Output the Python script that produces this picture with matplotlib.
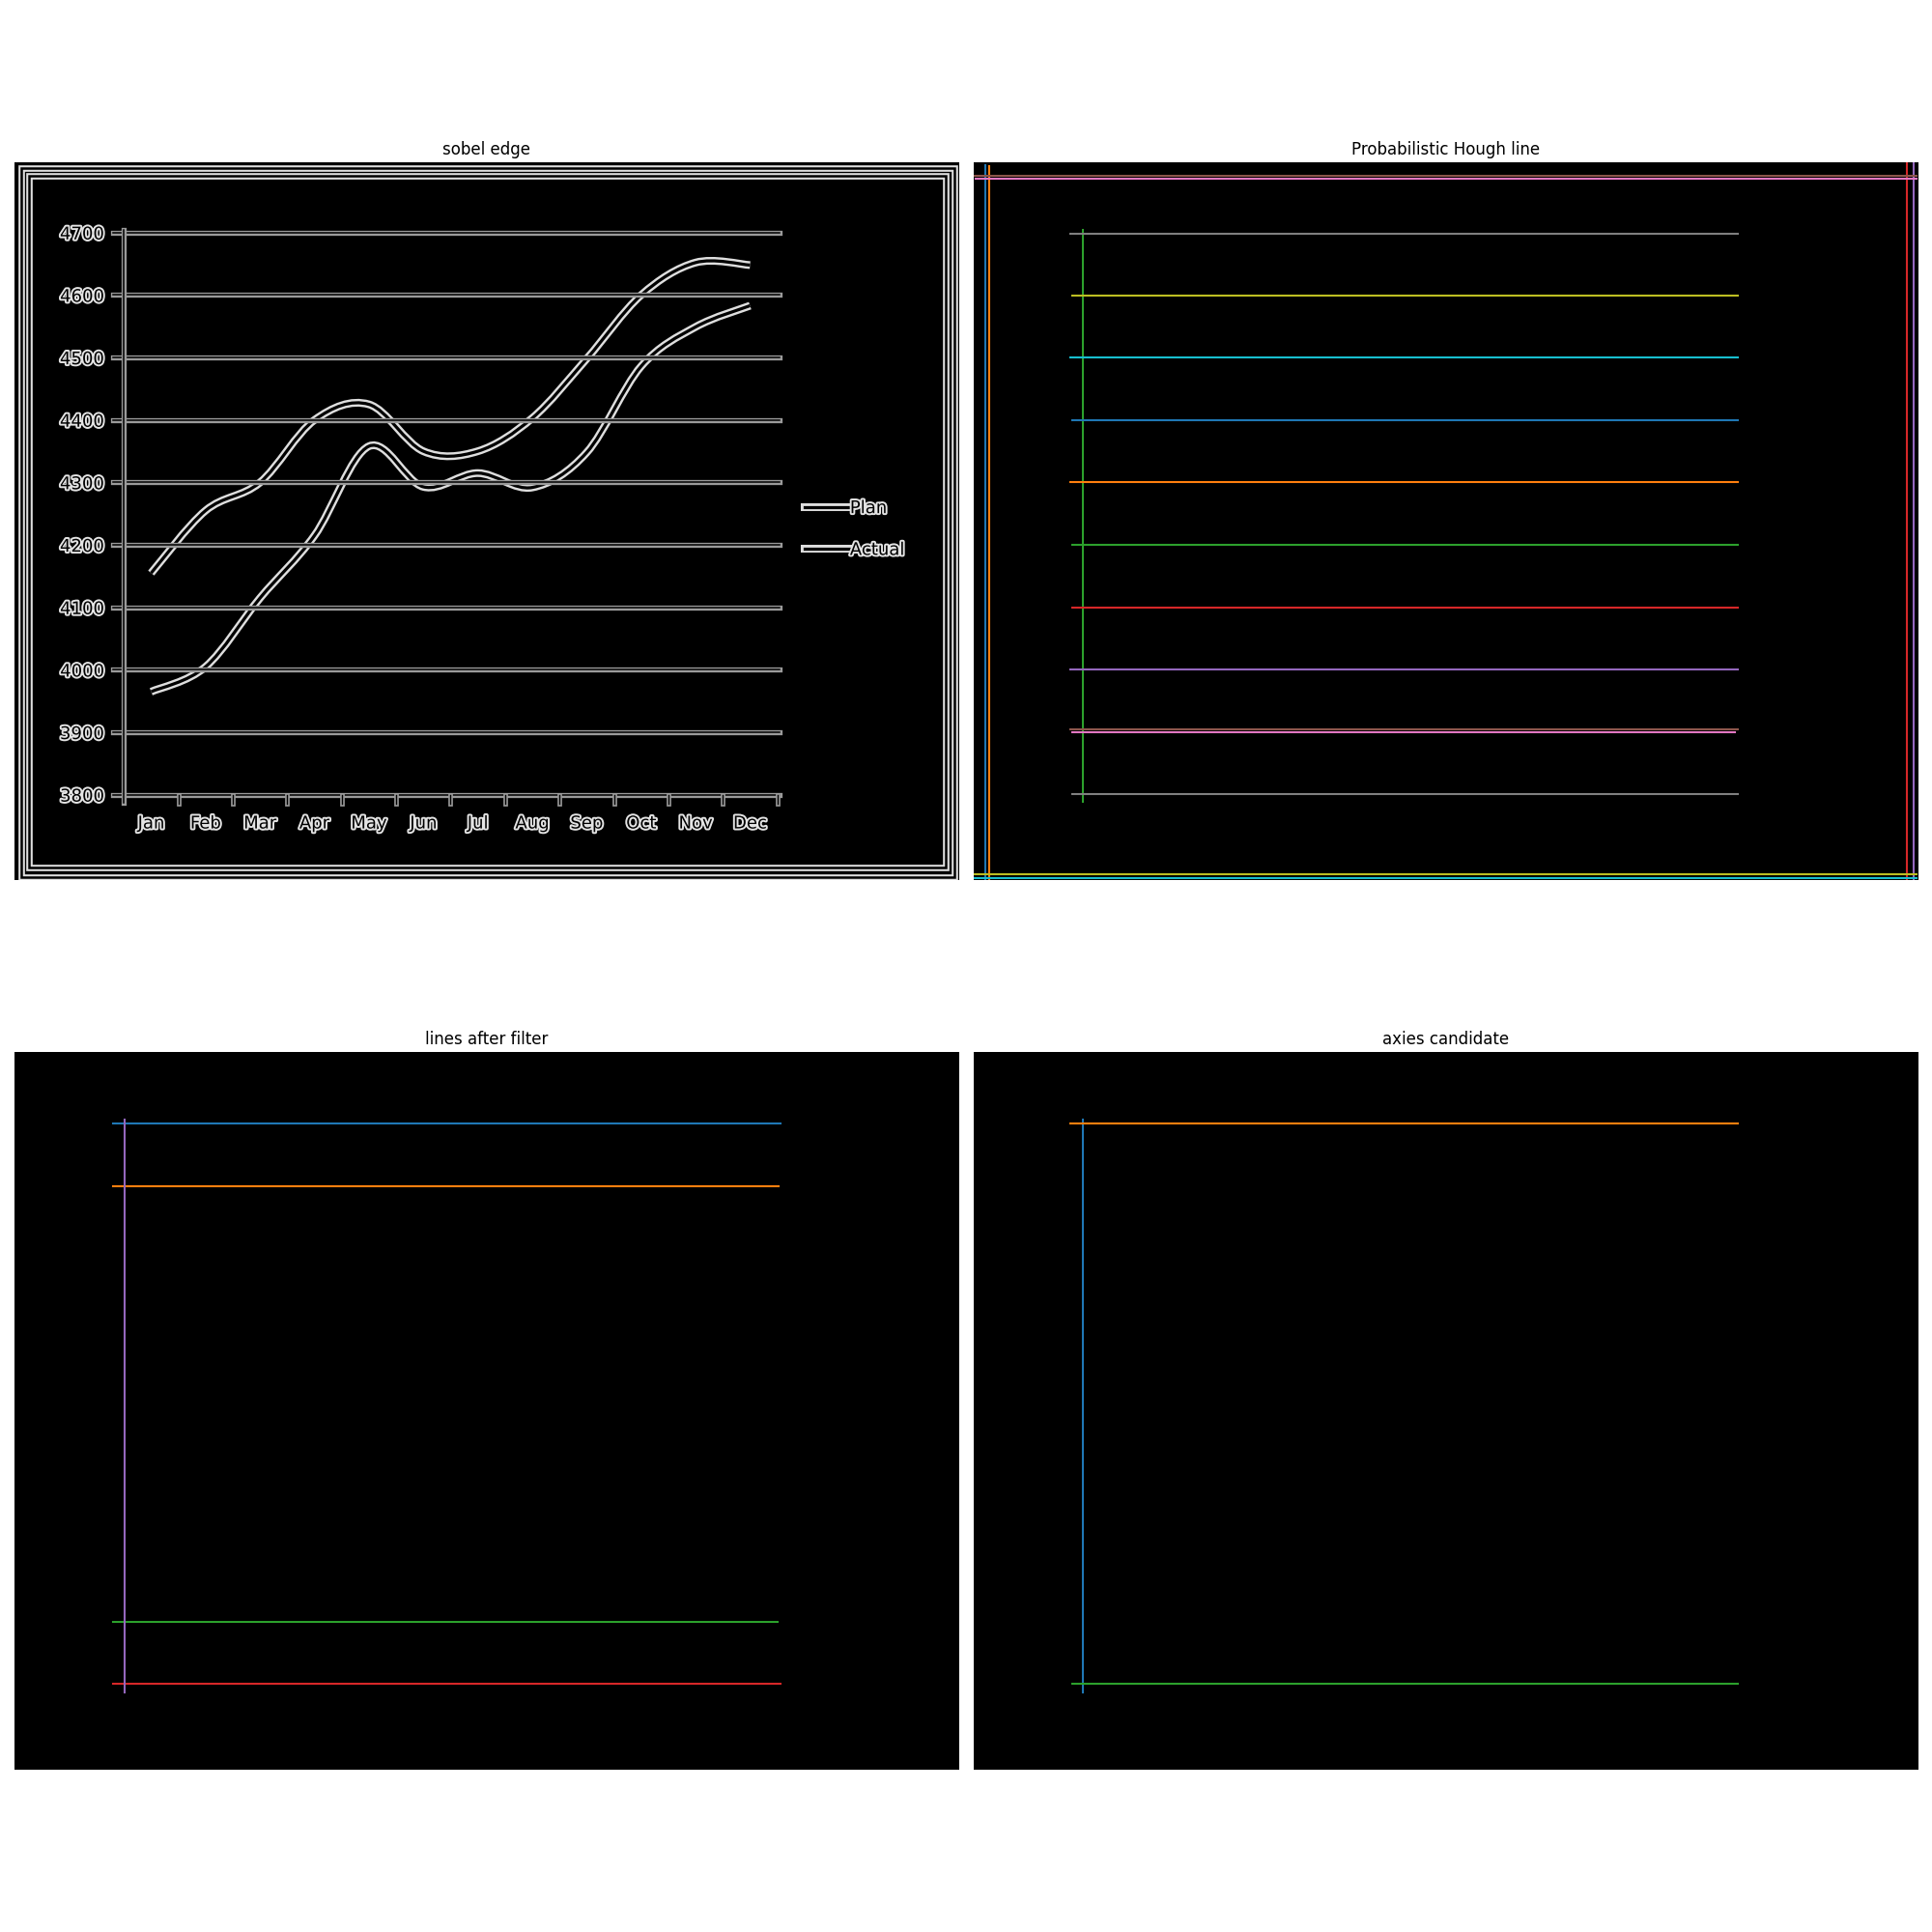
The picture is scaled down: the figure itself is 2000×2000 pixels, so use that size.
import numpy as np
import matplotlib.pyplot as plt
import matplotlib.patheffects as pe
from matplotlib.path import Path
from matplotlib.patches import PathPatch, Rectangle
from matplotlib.lines import Line2D

IMG_W, IMG_H = 640, 486

# chart seen in the edge image
months = ['Jan', 'Feb', 'Mar', 'Apr', 'May', 'Jun', 'Jul', 'Aug', 'Sep', 'Oct', 'Nov', 'Dec']
plan = [4155, 4255, 4300, 4400, 4425, 4350, 4350, 4403, 4498, 4600, 4652, 4648]
actual = [3965, 4005, 4115, 4215, 4358, 4293, 4315, 4292, 4348, 4486, 4549, 4583]
y_ticks = [3800, 3900, 4000, 4100, 4200, 4300, 4400, 4500, 4600, 4700]
series_names = ['Plan', 'Actual']

# outer / inner frame of the edge image (x0, y0, x1, y1 in image pixels)
frames = [(3.8, 3.0, 636.5, 484.0), (9.0, 8.5, 630.5, 477.5)]

# detected segments: x1, y1, x2, y2 (image pixels)
hough_lines = [
    (8, 1, 8, 485), (10.5, 2, 10.5, 485), (73.7, 45, 73.7, 433),
    (632.4, 0, 632.4, 485), (636.8, 0, 636.8, 485),
    (0.7, 8.2, 639, 8.2), (1.4, 10.4, 639, 10.4), (65.4, 47.5, 518, 47.5),
    (0, 482, 638.7, 482), (0, 484.2, 638.7, 484.2),
    (66.4, 174, 517.5, 174), (65.4, 216, 518, 216), (66.4, 258.8, 518, 258.8),
    (66.4, 301, 517.5, 301), (65.4, 342.8, 517.5, 342.8), (65.4, 383.4, 518, 383.4),
    (66.4, 385.8, 516, 385.8), (66.4, 427.8, 518, 427.8), (66.4, 89.8, 517.5, 89.8),
    (65.4, 131.8, 517.5, 131.8),
]
filtered_lines = [
    (66, 47.8, 518.5, 47.8), (66.4, 90.3, 517.7, 90.3),
    (66.4, 385.6, 517, 385.6), (66.4, 427.3, 518.5, 427.3),
    (74.2, 44.8, 74.2, 433),
]
axis_lines = [
    (73.7, 44.8, 73.7, 433), (65.4, 47.8, 518, 47.8), (66.6, 427.3, 518, 427.3),
]

BRIGHT = '#dedede'
GREY = '#9a9a9a'


def tube(outer, inner, col):
    return [pe.Stroke(linewidth=outer, foreground=col),
            pe.Stroke(linewidth=inner, foreground='black')]


def smooth_path(xs, ys):
    # Catmull-Rom style smoothing as drawn by spreadsheet charts
    pts = np.column_stack([xs, ys]).astype(float)
    ext = np.vstack([pts[0], pts, pts[-1]])
    verts = [pts[0]]
    codes = [Path.MOVETO]
    for i in range(len(pts) - 1):
        p0, p1, p2, p3 = ext[i], ext[i + 1], ext[i + 2], ext[i + 3]
        verts += [p1 + (p2 - p0) / 6, p2 - (p3 - p1) / 6, p2]
        codes += [Path.CURVE4] * 3
    return Path(verts, codes)


def show_blank(ax, title):
    ax.imshow(np.zeros((IMG_H, IMG_W)), cmap='gray', vmin=0, vmax=255)
    ax.set_title(title)
    ax.axis('off')


def draw_segments(ax, segs):
    for i, (x1, y1, x2, y2) in enumerate(segs):
        ax.plot([x1, x2], [y1, y2], color='C%d' % (i % 10))
    ax.set_xlim(-0.5, IMG_W - 0.5)
    ax.set_ylim(IMG_H - 0.5, -0.5)


fig, axs = plt.subplots(2, 2, figsize=(20, 20), dpi=100)

# ---- sobel edge
ax = axs[0, 0]
show_blank(ax, 'sobel edge')
for x0, y0, x1, y1 in frames:
    r = Rectangle((x0, y0), x1 - x0, y1 - y0, fill=False, lw=1,
                  path_effects=tube(4.8, 1.8, BRIGHT))
    ax.add_patch(r)

txt_fx = [pe.Stroke(linewidth=2.8, foreground='#e4e4e4'), pe.Normal()]

ins = ax.inset_axes([0.1159, 0.1183, 0.6919, 0.784])
ins.set_xlim(0, 12)
ins.set_ylim(3800, 4700)
ins.patch.set_visible(False)
for s in ins.spines.values():
    s.set_visible(False)
for v in y_ticks:
    ins.plot([-0.2, 12.04], [v, v], color='black', lw=1, clip_on=False,
             path_effects=tube(3.8, 1.1, GREY))
ins.plot([0, 0], [3788, 4705], color='black', lw=1, clip_on=False,
         path_effects=tube(3.8, 1.1, GREY))
for k in range(1, 13):
    ins.plot([k, k], [3786, 3800], color='black', lw=1, clip_on=False,
             path_effects=tube(3.4, 1.0, GREY))
xc = np.arange(len(months)) + 0.5
for vals in (plan, actual):
    ins.add_patch(PathPatch(smooth_path(xc, vals), fill=False, lw=1,
                            path_effects=tube(5.8, 2.3, BRIGHT)))
ins.set_yticks(y_ticks)
ins.set_yticklabels([str(v) for v in y_ticks])
ins.set_xticks(xc)
ins.set_xticklabels(months)
ins.tick_params(length=0, labelsize=13, labelcolor='black', pad=15)
for t in ins.get_yticklabels() + ins.get_xticklabels():
    t.set_path_effects(txt_fx)

handles = [Line2D([], [], color='black', lw=2.3,
                  path_effects=[pe.Stroke(linewidth=5.8, foreground=BRIGHT), pe.Normal()])
           for _ in series_names]
leg = ax.legend(handles, series_names, loc='center left', bbox_to_anchor=(535, 248),
                bbox_transform=ax.transData, frameon=False, fontsize=13,
                handlelength=2.6, handletextpad=0.0, borderpad=0, borderaxespad=0,
                labelspacing=1.4)
for t in leg.get_texts():
    t.set_color('black')
    t.set_path_effects(txt_fx)

# ---- hough
ax = axs[0, 1]
show_blank(ax, 'Probabilistic Hough line')
draw_segments(ax, hough_lines)

ax = axs[1, 0]
show_blank(ax, 'lines after filter')
draw_segments(ax, filtered_lines)

ax = axs[1, 1]
show_blank(ax, 'axies candidate')
draw_segments(ax, axis_lines)

plt.tight_layout()
plt.savefig('out.png')
